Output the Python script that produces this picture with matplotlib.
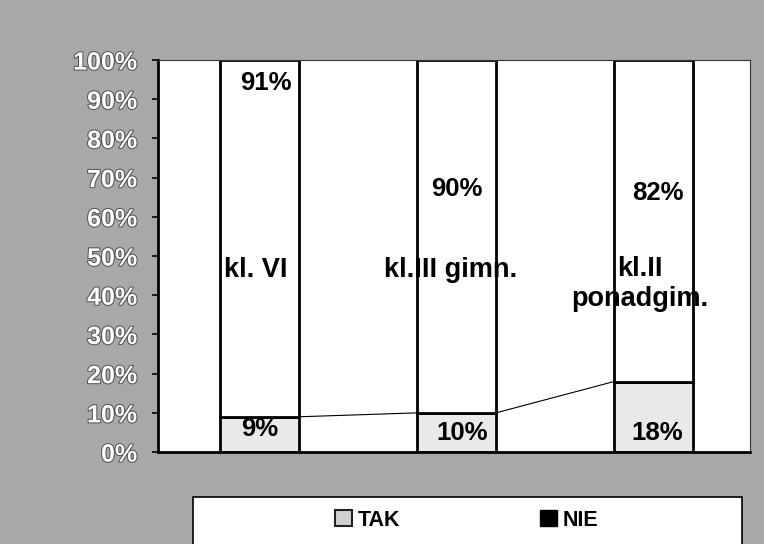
import numpy as np
import matplotlib
matplotlib.use("Agg")
from matplotlib import pyplot as plt
from matplotlib import patheffects as pe
from matplotlib.patches import Patch, Rectangle

# data
categories = ["kl. VI", "kl.III gimn.", "kl.II\nponadgim."]
tak = [9, 10, 18]
nie = [91, 90, 82]
yticks = [0, 10, 20, 30, 40, 50, 60, 70, 80, 90, 100]

plt.rcParams['font.family'] = ['Liberation Sans', 'DejaVu Sans']
plt.rcParams['font.weight'] = 'bold'

bg = '#a8a8a8'
fig = plt.figure(figsize=(7.64, 5.44), dpi=100, facecolor=bg)
ax = fig.add_axes([0.2068, 0.169, 0.775, 0.7206])
ax.set_facecolor('white')

x = np.arange(len(categories))
w = 0.4
ax.bar(x, tak, width=w, color='#e9e9e9', edgecolor='black', linewidth=2)
ax.bar(x, nie, width=w, bottom=tak, color='white', edgecolor='black', linewidth=2)

# series lines between the TAK tops
for i in range(len(x) - 1):
    ax.plot([x[i] + w / 2, x[i + 1] - w / 2], [tak[i], tak[i + 1]],
            color='black', linewidth=0.8)

# data labels (placed by hand in the original)
nie_dx = [0.03, 0.0, 0.02]
nie_y = [94.2, 67.0, 66.0]
tak_dx = [0.0, 0.03, 0.02]
tak_y = [5.9, 4.8, 4.8]
for i in range(len(x)):
    ax.text(x[i] + nie_dx[i], nie_y[i], f"{nie[i]}%", ha='center', va='center',
            fontsize=18.5, fontweight='bold')
    ax.text(x[i] + tak_dx[i], tak_y[i], f"{tak[i]}%", ha='center', va='center',
            fontsize=18.5, fontweight='bold')

# category names inside the bars
cat_x = [-0.02, 0.97, 1.93]
cat_y = [46.4, 46.4, 43.0]
for i in range(len(x)):
    ax.text(cat_x[i], cat_y[i], categories[i], ha='center', va='center',
            fontsize=19.5, fontweight='bold', linespacing=1.2)

ax.set_xlim(-0.515, 2.49)
ax.set_ylim(0, 100)
ax.set_xticks([])
ax.set_yticks(yticks)
ax.set_yticklabels([f"{t}%" for t in yticks], fontsize=18, fontweight='bold',
                   color='white')
for lab in ax.get_yticklabels():
    lab.set_path_effects([pe.withStroke(linewidth=1.5, foreground='#555555')])
ax.tick_params(axis='y', direction='out', length=4, width=1.2, pad=11)
for s in ['left', 'bottom']:
    ax.spines[s].set_linewidth(2)
for s in ['top', 'right']:
    ax.spines[s].set_linewidth(0.8)
    ax.spines[s].set_color('#333333')

# legend box
fig.patches.append(Rectangle((193 / 764, -0.01), 549 / 764, 47 / 544 + 0.01,
                             transform=fig.transFigure, facecolor='white',
                             edgecolor='black', linewidth=1.2, zorder=0))
handles = [Patch(facecolor='#cfcfcf', edgecolor='#222222', linewidth=1.5),
           Patch(facecolor='black', edgecolor='black')]
fig.legend(handles, ["TAK", "NIE"], loc='center', ncol=2, frameon=False,
           bbox_to_anchor=(467 / 764, 1 - 520 / 544),
           prop={'size': 15.5, 'weight': 'bold'}, handlelength=0.75,
           handleheight=0.75, handletextpad=0.3, columnspacing=6.5)

fig.savefig("out.png", dpi=100, facecolor=bg)
